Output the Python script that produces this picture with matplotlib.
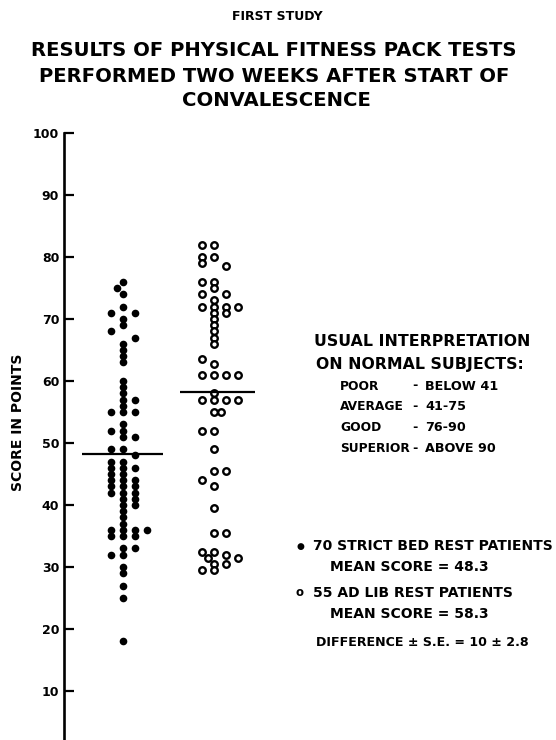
import matplotlib
matplotlib.use("Agg")
import matplotlib.pyplot as plt

# scores, grouped by the column they sit in
strict_cols = {
    -1.0: [71, 68, 55, 52, 49, 47, 46, 45, 44, 43, 42, 36, 35, 32],
    -0.5: [75],
    0.0: [76, 74, 72, 70, 69, 66, 65, 64, 63, 60, 59, 58, 57, 56, 55, 53, 52, 51, 49,
          47, 46, 45, 44, 43, 42, 41, 40, 39, 38, 37, 36, 35, 33,
          32, 30, 29, 27, 25, 18],
    1.0: [71, 67, 57, 55, 51, 48, 46, 44, 43, 42, 41, 40, 36, 35, 33],
    2.0: [36],
}
adlib_cols = {
    -1.0: [82, 80, 79, 76, 74, 72, 63.5, 61, 57, 52, 44, 32.5, 29.5],
    -0.5: [31.5],
    0.0: [82, 80, 76, 75, 73, 72, 71, 70, 69, 68, 67, 66, 62.7, 61, 58, 57, 55, 52, 49,
          45.5, 43, 39.5, 35.5, 32.5, 30.5, 29.5],
    0.6: [55],
    1.0: [78.5, 74, 72, 71, 61, 57, 45.5, 35.5, 32, 30.5],
    2.0: [72, 61, 57, 31.5],
}
strict_mean = 48.3
adlib_mean = 58.3
yticks = [10, 20, 30, 40, 50, 60, 70, 80, 90, 100]
ratings = ['POOR', 'AVERAGE', 'GOOD', 'SUPERIOR']
rating_ranges = ['BELOW 41', '41-75', '76-90', 'ABOVE 90']

W, H = 556, 740
fig = plt.figure(figsize=(W / 100, H / 100), dpi=100)
plt.rcParams['font.family'] = 'DejaVu Sans'

px_per_pt = 6.2
top_px = 133
ax = fig.add_axes([64 / W, 0, 1 - 64 / W, (H - top_px) / H])
ax.set_xlim(64, W)
ax.set_ylim(100 - (H - top_px) / px_per_pt, 100)

strict_x, step = 123, 12
adlib_x = 214

for off, vals in strict_cols.items():
    ax.plot([strict_x + off * step] * len(vals), vals, 'o', color='black',
            markersize=5.5, markeredgewidth=0, clip_on=False)
for off, vals in adlib_cols.items():
    ax.plot([adlib_x + off * step] * len(vals), vals, 'o', markerfacecolor='white',
            markeredgecolor='black', markersize=4.7, markeredgewidth=1.7, clip_on=False)

ax.hlines(strict_mean, 82, 163, color='black', lw=1.6)
ax.hlines(adlib_mean, 180, 255, color='black', lw=1.6)

for s in ['top', 'right', 'bottom']:
    ax.spines[s].set_visible(False)
ax.spines['left'].set_linewidth(1.9)
ax.set_xticks([])
ax.set_yticks(yticks)
ax.set_yticklabels([str(t) for t in yticks], fontweight='bold', fontsize=9)
ax.tick_params(axis='y', direction='in', length=7, width=1.6, pad=3.5)


def ftext(x, y, s, **kw):
    kw.setdefault('fontweight', 'bold')
    kw.setdefault('va', 'center')
    fig.text(x / W, 1 - y / H, s, **kw)


ftext(18, 422, 'SCORE IN POINTS', fontsize=10, ha='center', rotation=90)

ftext(277, 17, 'FIRST STUDY', fontsize=9, ha='center')
ftext(274, 50, 'RESULTS OF PHYSICAL FITNESS PACK TESTS', fontsize=14.1, ha='center')
ftext(274, 76, 'PERFORMED TWO WEEKS AFTER START OF', fontsize=14.1, ha='center')
ftext(276, 101, 'CONVALESCENCE', fontsize=14.1, ha='center')

ftext(422, 342, 'USUAL INTERPRETATION', fontsize=11.3, ha='center')
ftext(420, 364, 'ON NORMAL SUBJECTS:', fontsize=11.3, ha='center')
for i, (a, b) in enumerate(zip(ratings, rating_ranges)):
    y = 386 + i * 20.7
    ftext(340, y, a, fontsize=8.8)
    ftext(412, y, '-', fontsize=9.2)
    ftext(425, y, b, fontsize=9.2)

ftext(300, 546, '\u25cf', fontsize=6.5, ha='center')
ftext(313, 546, '70 STRICT BED REST PATIENTS', fontsize=10)
ftext(330, 567, 'MEAN SCORE = 48.3', fontsize=10)
ftext(300, 593, 'o', fontsize=8.5, ha='center')
ftext(313, 593, '55 AD LIB REST PATIENTS', fontsize=10)
ftext(330, 614, 'MEAN SCORE = 58.3', fontsize=10)
ftext(316, 643, 'DIFFERENCE \u00b1 S.E. = 10 \u00b1 2.8', fontsize=9.1)

fig.savefig('out.png', dpi=100)
